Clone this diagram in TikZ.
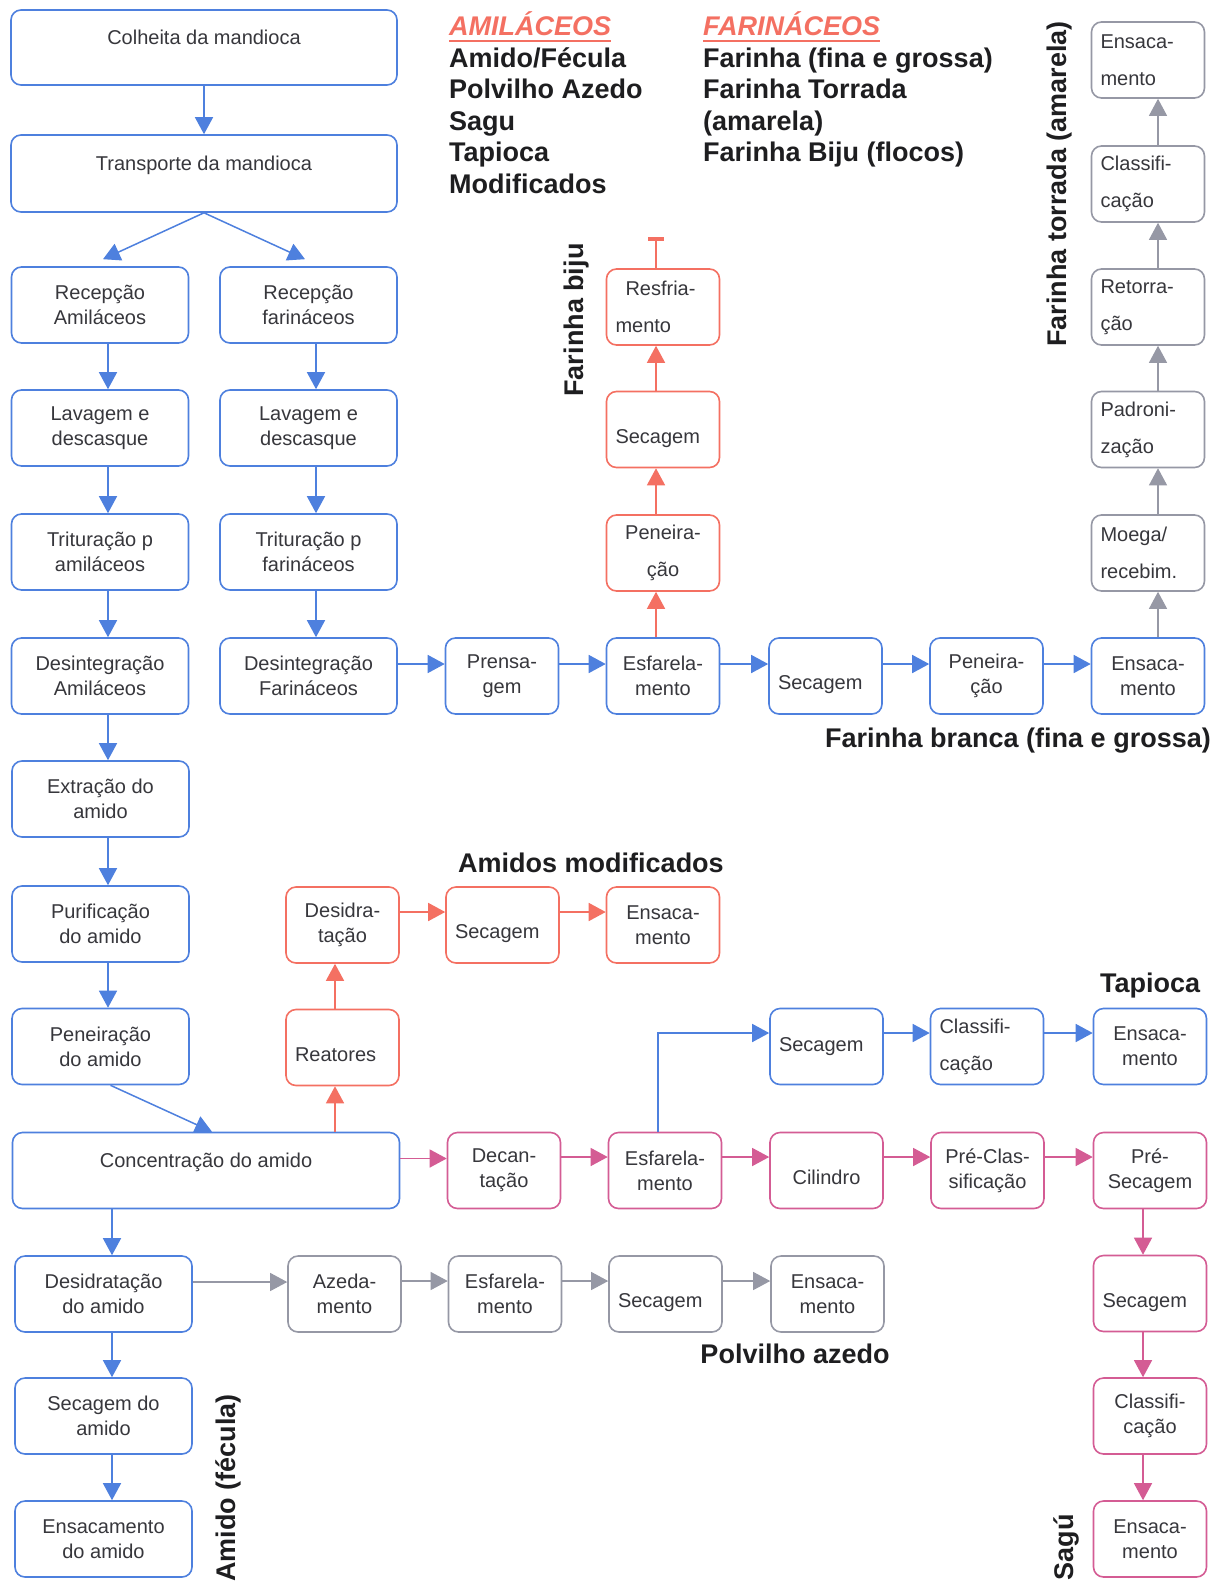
\documentclass[tikz,border=0pt]{standalone}
\usepackage{fontspec}
\setmainfont{Liberation Sans}
\usetikzlibrary{arrows.meta,calc}
\definecolor{cb}{RGB}{78,128,222}
\definecolor{cr}{RGB}{244,112,98}
\definecolor{cp}{RGB}{212,92,148}
\definecolor{cg}{RGB}{150,152,165}
\definecolor{ctxt}{RGB}{55,55,60}
\definecolor{cblk}{RGB}{30,30,32}
\newcommand\bxfont{\fontsize{20}{25}\selectfont}
\newcommand\bxwfont{\fontsize{20}{37}\selectfont}
\newcommand\lblfont{\fontsize{27}{31}\selectfont\bfseries}
\newcommand\dnc[4]{\draw[#1] ($(#2.south)+(#4,0)$) -- ($(#3.north)+(#4,0)$);}
\newcommand\upc[4]{\draw[#1] ($(#2.north)+(#4,0)$) -- ($(#3.south)+(#4,0)$);}
\newcommand\rtc[4]{\draw[#1] ($(#2.east)+(0,#4)$) -- ($(#3.west)+(0,#4)$);}
\tikzset{
 box/.style={draw, rounded corners=10pt, line width=1.6pt, minimum height=76pt, inner sep=2pt, align=center, font=\bxfont, text=ctxt},
 sm/.style={box, minimum width=113pt},
 wd/.style={box, minimum width=177pt},
 lft/.style={align=left, text width=95pt, font=\bxwfont},
 sp/.style={font=\bxwfont},
 low/.style={text height=31pt, text depth=4pt},
 high/.style={text height=14.5pt, text depth=20pt},
 bb/.style={draw=cb}, rb/.style={draw=cr}, pb/.style={draw=cp}, gb/.style={draw=cg},
 arr/.style={line width=1.5pt, -{Triangle[length=17pt,width=18pt]}},
 ba/.style={arr, draw=cb}, ra/.style={arr, draw=cr}, pa/.style={arr, draw=cp, line width=1.3pt}, ga/.style={arr, draw=cg, line width=1.1pt},
 lab/.style={font=\lblfont, text=cblk, inner sep=0pt},
}
\begin{document}
\begin{tikzpicture}[x=1pt,y=-1pt]
\path[use as bounding box, fill=white] (0,0) rectangle (1222,1582);
% top
\node[wd,bb,minimum width=386pt,minimum height=75pt,high] (colh) at (204,47.5) {Colheita da mandioca};
\node[wd,bb,minimum width=386pt,minimum height=77pt,high] (transp) at (204,173.5) {Transporte da mandioca};
% left column
\node[wd,bb] (recA) at (100,305) {Recepção\\Amiláceos};
\node[wd,bb] (lavA) at (100,428) {Lavagem e\\descasque};
\node[wd,bb] (triA) at (100,552) {Trituração p\\amiláceos};
\node[wd,bb] (desA) at (100,676) {Desintegração\\Amiláceos};
\node[wd,bb] (ext) at (100.5,799) {Extração do\\amido};
\node[wd,bb] (pur) at (100.5,924) {Purificação\\do amido};
\node[wd,bb] (pen) at (100.5,1046.5) {Peneiração\\do amido};
\node[wd,bb,minimum width=387pt,high] (conc) at (206,1170.5) {Concentração do amido};
\node[wd,bb] (dsd) at (103.5,1294) {Desidratação\\do amido};
\node[wd,bb] (seA) at (103.5,1416) {Secagem do\\amido};
\node[wd,bb] (enA) at (103.5,1539) {Ensacamento\\do amido};
% right column
\node[wd,bb] (recF) at (308.5,305) {Recepção\\farináceos};
\node[wd,bb] (lavF) at (308.5,428) {Lavagem e\\descasque};
\node[wd,bb] (triF) at (308.5,552) {Trituração p\\farináceos};
\node[wd,bb] (desF) at (308.5,676) {Desintegração\\Farináceos};
% farinha branca row
\node[sm,bb] (pren) at (502,676) {Prensa-\\gem};
\node[sm,bb] (esfF) at (663,676) {Esfarela-\\mento};
\node[sm,bb,lft,low] (secF) at (825.5,676) {Secagem};
\node[sm,bb] (penF) at (986.5,676) {Peneira-\\ção};
\node[sm,bb] (ensF) at (1148,676) {Ensaca-\\mento};
% farinha biju
\node[sm,rb,sp] (penB) at (663,553) {Peneira-\\ção};
\node[sm,rb,lft,low] (secB) at (663,429.5) {Secagem};
\node[sm,rb,lft] (resf) at (663,307) {\hspace*{10pt}Resfria-\\mento};
% farinha torrada
\node[sm,gb,lft] (moe) at (1148,553) {Moega/\\recebim.};
\node[sm,gb,lft] (pad) at (1148,429.5) {Padroni-\\zação};
\node[sm,gb,lft] (ret) at (1148,307) {Retorra-\\ção};
\node[sm,gb,lft] (cla) at (1148,184) {Classifi-\\cação};
\node[sm,gb,lft] (ensT) at (1148,60) {Ensaca-\\mento};
% amidos modificados
\node[sm,rb,lft,low] (rea) at (342.5,1047.5) {Reatores};
\node[sm,rb] (dsM) at (342.5,925) {Desidra-\\tação};
\node[sm,rb,lft,low] (seM) at (502.5,925) {Secagem};
\node[sm,rb] (enM) at (663,925) {Ensaca-\\mento};
% tapioca
\node[sm,bb,lft] (secT) at (826.5,1046.5) {Secagem};
\node[sm,bb,lft] (claT) at (987,1046.5) {Classifi-\\cação};
\node[sm,bb] (ensTp) at (1150,1046.5) {Ensaca-\\mento};
% sagu
\node[sm,pb] (dec) at (504,1170.5) {Decan-\\tação};
\node[sm,pb] (esfP) at (665,1170.5) {Esfarela-\\mento};
\node[sm,pb,low] (cil) at (826.5,1170.5) {Cilindro};
\node[sm,pb] (pcl) at (987.5,1170.5) {Pré-Clas-\\sificação};
\node[sm,pb] (pse) at (1150,1170.5) {Pré-\\Secagem};
\node[sm,pb,lft,low] (seS) at (1150,1293.5) {Secagem};
\node[sm,pb] (clS) at (1150,1416) {Classifi-\\cação};
\node[sm,pb] (enS) at (1150,1539) {Ensaca-\\mento};
% polvilho azedo
\node[sm,gb] (aze) at (344.5,1294) {Azeda-\\mento};
\node[sm,gb] (esG) at (505,1294) {Esfarela-\\mento};
\node[sm,gb,lft,low] (seG) at (665.5,1294) {Secagem};
\node[sm,gb] (enG) at (827.5,1294) {Ensaca-\\mento};
% legend texts
\node[lab,anchor=base west,text=cr] (amil) at (449,35) {\itshape AMILÁCEOS};
\draw[cr,line width=2pt] ($(amil.base west)+(0,5.5)$) -- ($(amil.base east)+(0,5.5)$);
\node[lab,anchor=base west] (a1) at (449,67) {Amido/Fécula};
\node[lab,anchor=base west] (a2) at (449,98.5) {Polvilho Azedo};
\node[lab,anchor=base west] (a3) at (449,130) {Sagu};
\node[lab,anchor=base west] (a4) at (449,161.5) {Tapioca};
\node[lab,anchor=base west] (a5) at (449,193) {Modificados};
\node[lab,anchor=base west,text=cr] (fari) at (703,35) {\itshape FARINÁCEOS};
\draw[cr,line width=2pt] ($(fari.base west)+(0,5.5)$) -- ($(fari.base east)+(0,5.5)$);
\node[lab,anchor=base west] (f1) at (703,67) {Farinha (fina e grossa)};
\node[lab,anchor=base west] (f2) at (703,98.5) {Farinha Torrada};
\node[lab,anchor=base west] (f3) at (703,130) {(amarela)};
\node[lab,anchor=base west] (f4) at (703,161.5) {Farinha Biju (flocos)};
% product labels
\node[lab,rotate=90] (lbiju) at (577,320) {Farinha biju};
\node[lab,rotate=90] (ltor) at (1060,184) {Farinha torrada (amarela)};
\node[lab,rotate=90] (lami) at (228,1488) {Amido (fécula)};
\node[lab,rotate=90] (lsagu) at (1066,1547) {Sagú};
\node[lab,anchor=base] (lmod) at (591,872) {Amidos modificados};
\node[lab,anchor=base east] (lbr) at (1211,747) {Farinha branca (fina e grossa)};
\node[lab,anchor=base] (ltap) at (1150,992) {Tapioca};
\node[lab,anchor=base] (lpol) at (795,1363) {Polvilho azedo};
% connectors: top
\draw[ba] (colh.south) -- (transp.north);
\draw[ba] (transp.south) -- ($(recA.north)+(3,-7)$);
\draw[ba] (transp.south) -- ($(recF.north)+(-3.5,-7)$);
% left column
\dnc{ba}{recA}{lavA}{8}
\dnc{ba}{lavA}{triA}{8}
\dnc{ba}{triA}{desA}{8}
\draw[ba] ($(desA.south)+(8,0)$) -- ($(ext.north -| desA.south)+(8,0)$);
\dnc{ba}{ext}{pur}{7.5}
\dnc{ba}{pur}{pen}{7.5}
\draw[ba] ($(pen.south)+(10,0)$) -- ($(conc.north)+(6,0)$);
\draw[ba] ($(dsd.north |- conc.south)+(8.5,0)$) -- ($(dsd.north)+(8.5,0)$);
\dnc{ba}{dsd}{seA}{8.5}
\dnc{ba}{seA}{enA}{8.5}
% right column
\dnc{ba}{recF}{lavF}{7.5}
\dnc{ba}{lavF}{triF}{7.5}
\dnc{ba}{triF}{desF}{7.5}
% farinha branca row
\rtc{ba}{desF}{pren}{-12}
\rtc{ba}{pren}{esfF}{-12}
\rtc{ba}{esfF}{secF}{-12}
\rtc{ba}{secF}{penF}{-12}
\rtc{ba}{penF}{ensF}{-12}
% biju
\upc{ra}{esfF}{penB}{-7}
\upc{ra}{penB}{secB}{-7}
\upc{ra}{secB}{resf}{-7}
\draw[cr,line width=1.5pt,-{Bar[width=16pt,line width=4pt]}] ($(resf.north)+(-7,0)$) -- ++(0,-31);
% torrada
\upc{ga}{ensF}{moe}{10}
\upc{ga}{moe}{pad}{10}
\upc{ga}{pad}{ret}{10}
\upc{ga}{ret}{cla}{10}
\upc{ga}{cla}{ensT}{10}
% modificados
\draw[ra] ($(rea.south |- conc.north)+(-7.5,0)$) -- ($(rea.south)+(-7.5,0)$);
\upc{ra}{rea}{dsM}{-7.5}
\rtc{ra}{dsM}{seM}{-13}
\rtc{ra}{seM}{enM}{-13}
% sagu row
\rtc{pa}{conc}{dec}{-12}
\rtc{pa}{dec}{esfP}{-13.5}
\rtc{pa}{esfP}{cil}{-13.5}
\rtc{pa}{cil}{pcl}{-13.5}
\rtc{pa}{pcl}{pse}{-13.5}
\dnc{pa}{pse}{seS}{-7}
\dnc{pa}{seS}{clS}{-7}
\dnc{pa}{clS}{enS}{-7}
% tapioca
\draw[ba] ($(esfP.north)+(-7,0)$) |- ($(secT.west)+(0,-13.5)$);
\rtc{ba}{secT}{claT}{-13.5}
\rtc{ba}{claT}{ensTp}{-13.5}
% polvilho
\rtc{ga}{dsd}{aze}{-12}
\rtc{ga}{aze}{esG}{-13}
\rtc{ga}{esG}{seG}{-13}
\rtc{ga}{seG}{enG}{-13}
\end{tikzpicture}
\end{document}
